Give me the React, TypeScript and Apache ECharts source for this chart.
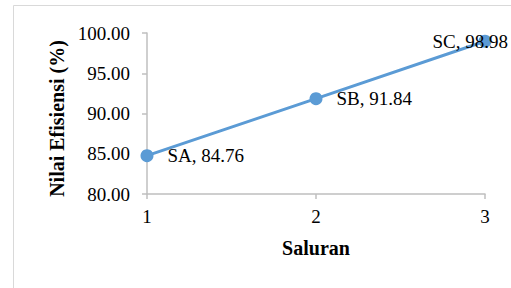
import React, { useEffect, useRef } from "react";
import * as echarts from "echarts";

const channels = ["SA", "SB", "SC"];
const xValues = [1, 2, 3];
const efficiency = [84.76, 91.84, 98.98];
const xAxisTitle = "Saluran";
const yAxisTitle = "Nilai Efisiensi (%)";

const FONT = "'Liberation Serif', 'Times New Roman', serif";

export default function App() {
  const ref = useRef<HTMLDivElement>(null);

  useEffect(() => {
    document.body.style.margin = "0";
    if (!ref.current) return;
    const chart = echarts.init(ref.current, undefined, { renderer: "svg" });
    const data = xValues.map((x, i) => {
      const last = i === xValues.length - 1;
      return {
        value: [x, efficiency[i]],
        name: channels[i],
        label: last
          ? { position: "inside", align: "right", offset: [23, 0] }
          : { position: "right", distance: 14 },
      };
    });
    chart.setOption({
      animation: false,
      backgroundColor: "#ffffff",
      textStyle: { fontFamily: FONT },
      graphic: [
        {
          type: "rect",
          shape: { x: 13.5, y: 5.5, width: 600, height: 400 },
          style: { fill: "none", stroke: "#d9d9d9", lineWidth: 1 },
          silent: true,
          z: -1,
        },
      ],
      grid: { left: 147, right: 26, top: 33, bottom: 94, containLabel: false },
      xAxis: {
        type: "value",
        min: 1,
        max: 3,
        interval: 1,
        name: xAxisTitle,
        nameLocation: "middle",
        nameGap: 44,
        nameTextStyle: { fontFamily: FONT, fontSize: 20, fontWeight: "bold", color: "#000" },
        axisLine: { show: true, lineStyle: { color: "#bfbfbf", width: 1.5 } },
        axisTick: { show: true, inside: false, length: 5, lineStyle: { color: "#bfbfbf", width: 1.5 } },
        axisLabel: { fontFamily: FONT, fontSize: 19, color: "#000", margin: 13 },
        splitLine: { show: false },
      },
      yAxis: {
        type: "value",
        min: 80,
        max: 100,
        interval: 5,
        name: yAxisTitle,
        nameLocation: "middle",
        nameGap: 76,
        nameRotate: 90,
        nameTextStyle: {
          fontFamily: FONT,
          fontSize: 20,
          fontWeight: "bold",
          color: "#000",
          padding: [0, 10, 0, 0],
        },
        axisLine: { show: true, lineStyle: { color: "#bfbfbf", width: 1.5 } },
        axisTick: { show: true, inside: false, length: 5, lineStyle: { color: "#bfbfbf", width: 1.5 } },
        axisLabel: {
          fontFamily: FONT,
          fontSize: 19,
          color: "#000",
          margin: 17,
          formatter: (v: number) => v.toFixed(2),
        },
        splitLine: { show: false },
      },
      series: [
        {
          type: "line",
          data,
          symbol: "circle",
          symbolSize: 13,
          lineStyle: { color: "#5b9bd5", width: 3 },
          itemStyle: { color: "#5b9bd5" },
          label: {
            show: true,
            fontFamily: FONT,
            fontSize: 19,
            color: "#000",
            formatter: (p: any) => `${p.name}, ${p.value[1].toFixed(2)}`,
          },
        },
      ],
    });
    return () => chart.dispose();
  }, []);

  return <div ref={ref} style={{ width: 511, height: 288 }} />;
}
